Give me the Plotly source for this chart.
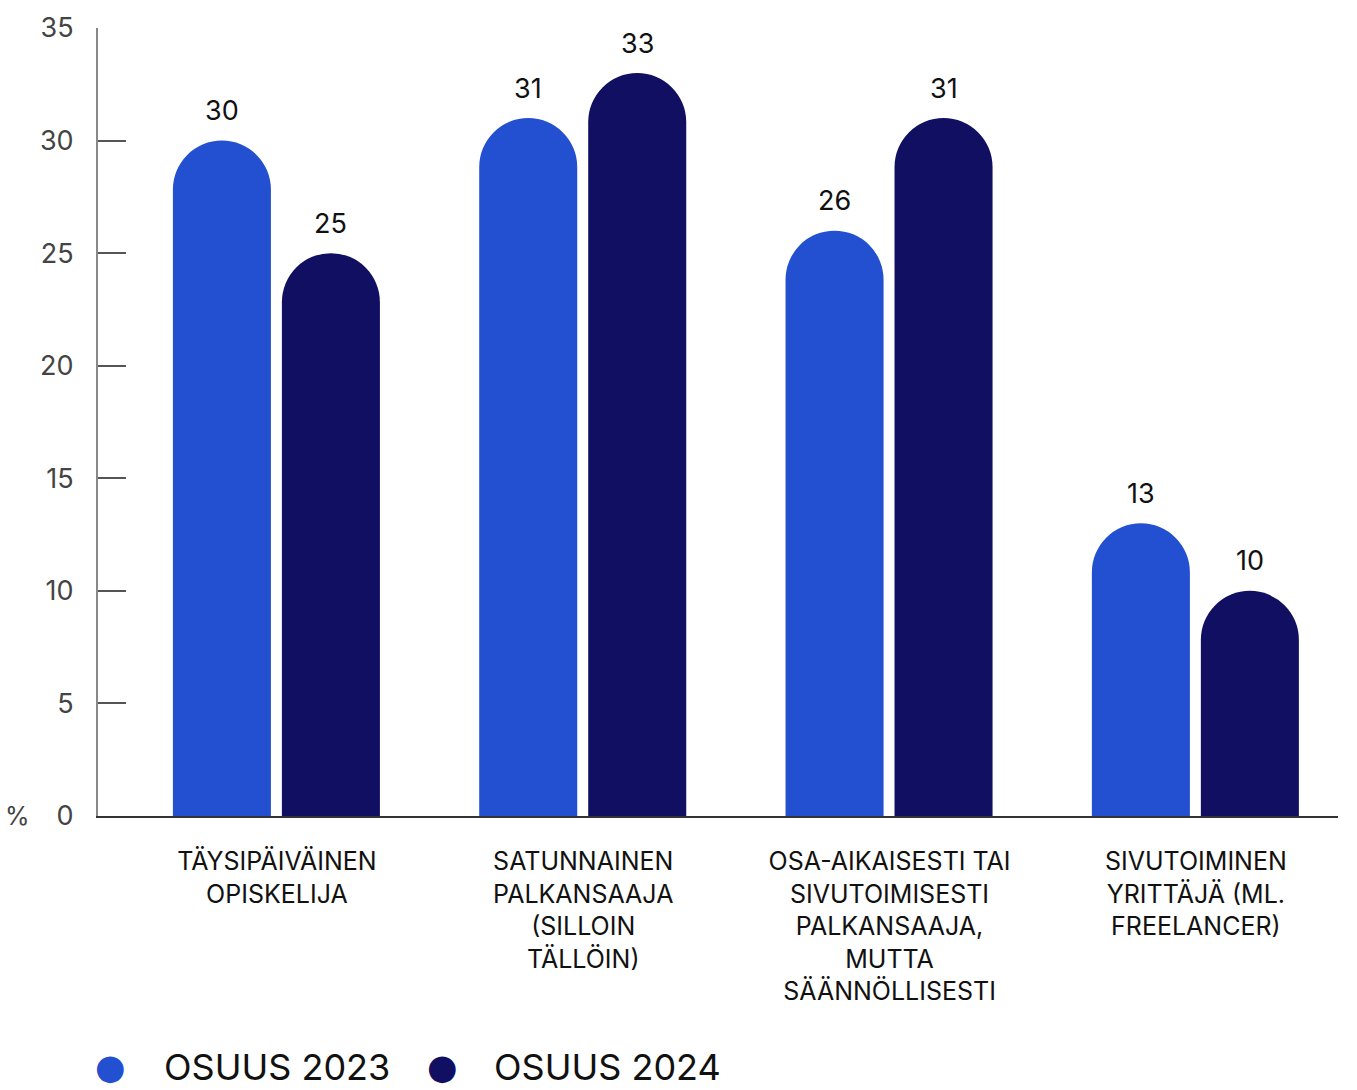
import plotly.graph_objects as go

# Share of respondents by employment status, 2023 vs 2024 (%)
categories = [
    "TÄYSIPÄIVÄINEN<br>OPISKELIJA",
    "SATUNNAINEN<br>PALKANSAAJA<br>(SILLOIN<br>TÄLLÖIN)",
    "OSA-AIKAISESTI TAI<br>SIVUTOIMISESTI<br>PALKANSAAJA,<br>MUTTA<br>SÄÄNNÖLLISESTI",
    "SIVUTOIMINEN<br>YRITTÄJÄ (ML.<br>FREELANCER)",
]
share_2023 = [30, 31, 26, 13]
share_2024 = [25, 33, 31, 10]
series_names = ["OSUUS 2023", "OSUUS 2024"]
y_ticks = [0, 5, 10, 15, 20, 25, 30, 35]

COLOR_2023 = "#2350D0"
COLOR_2024 = "#100F62"
FONT = "Inter"

idx = list(range(len(categories)))
bar_w = 0.32
offsets = [-0.3395, 0.0163]

fig = go.Figure()
for name, vals, color, off in [
    (series_names[0], share_2023, COLOR_2023, offsets[0]),
    (series_names[1], share_2024, COLOR_2024, offsets[1]),
]:
    fig.add_trace(go.Bar(
        x=idx, y=vals, width=bar_w, offset=off, name=name,
        marker=dict(color=color, cornerradius="50%", line=dict(width=0)),
        showlegend=False, hoverinfo="y",
    ))
    # value labels above each bar
    for i, v in zip(idx, vals):
        fig.add_annotation(
            x=i + off + bar_w / 2, y=v, text=str(v), showarrow=False,
            yanchor="middle", yshift=30, font=dict(family=FONT, size=27, color="#111"),
        )

# legend row below the category labels: coloured dot + series name
legend_y = -0.318
for name, color, dot_x, text_x in [
    (series_names[0], COLOR_2023, 0.0097, 0.0515),
    (series_names[1], COLOR_2024, 0.278, 0.318),
]:
    fig.add_annotation(
        xref="paper", yref="paper", x=dot_x, y=legend_y, text="●", showarrow=False,
        xanchor="center", yanchor="middle",
        font=dict(family="DejaVu Sans", size=35, color=color),
    )
    fig.add_annotation(
        xref="paper", yref="paper", x=text_x, y=legend_y, text=name, showarrow=False,
        xanchor="left", yanchor="middle",
        font=dict(family=FONT, size=36, color="#111"),
    )

fig.add_annotation(
    xref="paper", yref="paper", x=-0.065, y=0, text="%", showarrow=False,
    xanchor="center", yanchor="middle", font=dict(family=FONT, size=25, color="#444"),
)

fig.update_layout(
    width=1357, height=1090,
    margin=dict(l=98, r=19, t=28, b=274),
    paper_bgcolor="white", plot_bgcolor="white",
    font=dict(family=FONT, size=25, color="#111"),
    showlegend=False,
    xaxis=dict(
        tickmode="array", tickvals=idx, ticktext=categories,
        range=[-0.584, 3.464], showgrid=False, zeroline=False,
        showline=True, linecolor="#333", linewidth=2, ticks="",
        ticklabelstandoff=22, tickfont=dict(family=FONT, size=25, color="#111"),
    ),
    yaxis=dict(
        range=[0, 35], tickvals=y_ticks, showgrid=False, zeroline=False,
        showline=True, linecolor="#888", linewidth=2,
        ticks="inside", ticklen=28, tickcolor="#555", tickwidth=1.5,
        ticklabelstandoff=17, tickfont=dict(family=FONT, size=27, color="#444"),
    ),
)

fig.write_html("out.html")
